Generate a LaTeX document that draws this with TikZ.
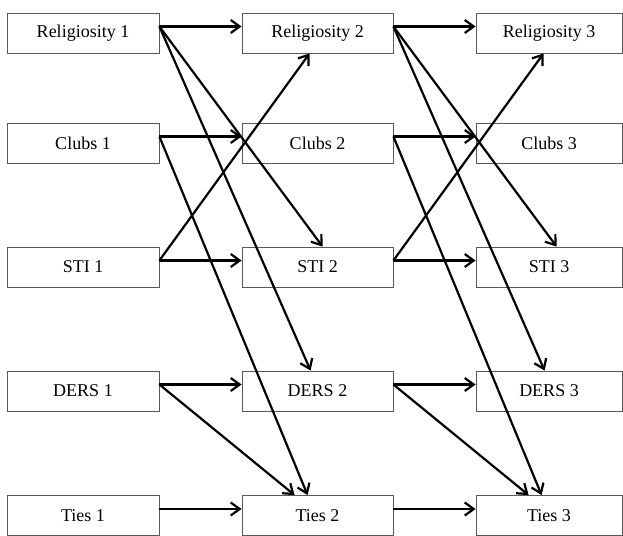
\documentclass[tikz,border=0pt]{standalone}
\usepackage{fontspec}
\setmainfont{Liberation Serif}
\usetikzlibrary{arrows.meta}

\begin{document}
\begin{tikzpicture}[
    x=1pt, y=-1pt,
    >={Straight Barb[length=9pt,width=13pt]},
    var/.style={draw=black!65, line width=0.8pt, minimum height=40pt,
        inner sep=0pt, font=\fontsize{18}{20}\selectfont},
    link/.style={->, line width=2.2pt}
]
\clip (0,0) rectangle (623,535);

% wave 1
\node[var, minimum width=152pt] (rel1)   at (83,33)    {Religiosity 1};
\node[var, minimum width=152pt] (clubs1) at (83,143)   {Clubs 1};
\node[var, minimum width=152pt] (sti1)   at (83,267)   {STI 1};
\node[var, minimum width=152pt] (ders1)  at (83,391)   {DERS 1};
\node[var, minimum width=152pt] (ties1)  at (83,515.5) {Ties 1};

% wave 2
\node[var, minimum width=151pt] (rel2)   at (317.5,33)    {Religiosity 2};
\node[var, minimum width=151pt] (clubs2) at (317.5,143)   {Clubs 2};
\node[var, minimum width=151pt] (sti2)   at (317.5,267)   {STI 2};
\node[var, minimum width=151pt] (ders2)  at (317.5,391)   {DERS 2};
\node[var, minimum width=151pt] (ties2)  at (317.5,515.5) {Ties 2};

% wave 3
\node[var, minimum width=146pt] (rel3)   at (549,33)    {Religiosity 3};
\node[var, minimum width=146pt] (clubs3) at (549,143)   {Clubs 3};
\node[var, minimum width=146pt] (sti3)   at (549,267)   {STI 3};
\node[var, minimum width=146pt] (ders3)  at (549,391)   {DERS 3};
\node[var, minimum width=146pt] (ties3)  at (549,515.5) {Ties 3};

% stability paths
\foreach \v in {rel,clubs,sti,ders,ties} {
    \draw[link] ([yshift=6.5pt]\v1.east) -- ([yshift=6.5pt]\v2.west);
    \draw[link] ([yshift=6.5pt]\v2.east) -- ([yshift=6.5pt]\v3.west);
}

% cross-lagged paths
\foreach \a/\b in {1/2,2/3} {
    \draw[link] ([yshift=6.5pt]rel\a.east) -- ([xshift=81pt]sti\b.north west);
    \draw[link] ([yshift=6.5pt]rel\a.east) -- ([xshift=69pt]ders\b.north west);
    \draw[link] ([yshift=6.5pt]clubs\a.east) -- ([xshift=66pt]ties\b.north west);
    \draw[link] ([yshift=6.5pt]ders\a.east) -- ([xshift=53pt]ties\b.north west);
    \draw[link] ([yshift=6.5pt]sti\a.east) -- ([xshift=68pt]rel\b.south west);
}

\end{tikzpicture}
\end{document}
